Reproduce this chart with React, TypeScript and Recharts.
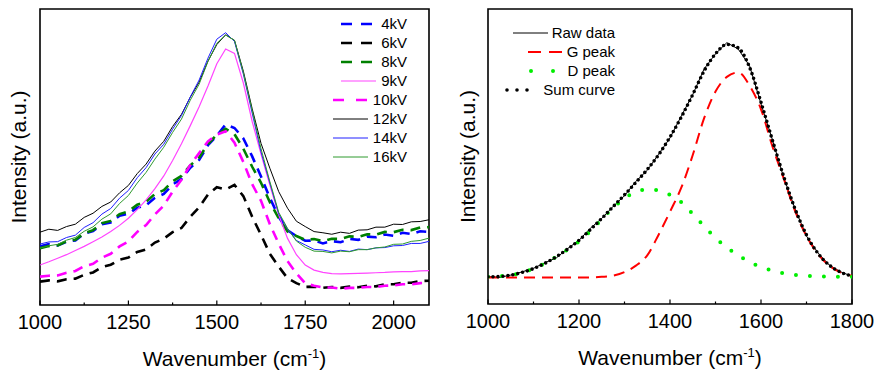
import { LineChart, Line, XAxis, YAxis, ReferenceArea, Legend } from 'recharts'

const FONT = '"Liberation Sans", Arial, sans-serif'

// left panel: spectra at different voltages
const leftWavenumbers = [
  1000, 1025, 1050, 1075, 1100, 1125, 1150, 1175, 1200, 1225, 1250, 1275, 1300, 1325, 1350,
  1375, 1400, 1425, 1450, 1475, 1500, 1525, 1550, 1575, 1600, 1625, 1650, 1675, 1700, 1725,
  1750, 1775, 1800, 1825, 1850, 1875, 1900, 1925, 1950, 1975, 2000, 2025, 2050, 2075, 2100,
]
const kv4 = [
  19.8, 20.6, 20.1, 21.4, 21.8, 24.1, 25.0, 27.3, 27.9, 30.2, 30.8, 32.9, 33.7, 36.2, 37.5,
  40.7, 42.6, 46.4, 49.0, 54.0, 57.2, 61.0, 59.8, 56.3, 50.2, 43.4, 36.2, 29.8, 25.2, 23.3,
  21.7, 21.8, 20.8, 21.6, 21.2, 22.3, 22.0, 23.1, 22.9, 23.8, 23.4, 24.4, 24.0, 24.9, 24.7,
]
const kv6 = [
  7.9, 8.3, 8.0, 8.7, 8.9, 10.2, 11.0, 12.8, 13.6, 15.3, 16.0, 17.9, 18.8, 21.1, 22.4,
  24.6, 26.0, 29.8, 33.0, 37.3, 39.8, 39.0, 40.6, 36.8, 29.8, 23.7, 17.3, 13.0, 9.0, 7.4,
  6.1, 6.2, 5.8, 6.1, 5.8, 6.2, 6.0, 6.5, 6.3, 7.0, 7.0, 7.5, 7.5, 8.1, 8.2,
]
const kv8 = [
  19.2, 19.9, 20.1, 21.5, 22.0, 24.2, 25.3, 27.6, 28.4, 30.7, 31.6, 33.9, 34.9, 37.5, 38.8,
  41.8, 43.6, 47.2, 49.8, 54.4, 57.5, 59.5, 57.7, 52.8, 46.7, 41.3, 34.7, 29.3, 24.8, 23.3,
  22.0, 22.3, 21.6, 22.4, 22.3, 23.2, 23.0, 23.9, 23.8, 24.7, 24.6, 25.4, 25.3, 26.2, 26.3,
]
const kv9 = [
  13.5, 14.6, 15.8, 17.0, 18.4, 19.8, 21.4, 23.0, 24.8, 26.9, 29.3, 32.2, 35.5, 39.3, 43.6,
  48.8, 54.5, 60.6, 67.0, 74.0, 81.5, 86.5, 85.0, 75.0, 62.0, 51.0, 40.5, 30.5, 22.5, 17.0,
  13.5, 11.8, 11.0, 10.6, 10.5, 10.6, 10.7, 10.8, 10.9, 11.0, 11.2, 11.3, 11.3, 11.5, 11.6,
]
const kv10 = [
  9.6, 9.9, 10.0, 10.9, 11.5, 13.1, 13.9, 16.0, 17.3, 19.8, 21.5, 24.7, 27.0, 30.6, 33.6,
  38.3, 42.3, 47.3, 51.3, 55.3, 57.6, 58.7, 54.8, 48.3, 40.8, 35.2, 27.3, 20.7, 14.8, 10.7,
  7.3, 6.5, 5.9, 5.9, 5.5, 5.8, 5.8, 6.1, 6.1, 6.5, 6.6, 7.0, 7.0, 7.4, 7.5,
]
const kv12 = [
  24.6, 25.6, 25.2, 26.5, 27.3, 29.6, 31.0, 33.3, 34.8, 37.9, 40.4, 44.4, 47.6, 52.0, 55.3,
  60.3, 64.4, 70.2, 75.3, 82.4, 88.0, 91.3, 89.4, 79.0, 66.3, 54.6, 46.2, 38.3, 32.7, 28.3,
  26.5, 24.8, 24.4, 23.9, 24.6, 24.2, 25.3, 25.4, 26.3, 26.3, 27.3, 27.2, 28.1, 28.2, 28.8,
]
const kv14 = [
  20.6, 21.3, 21.4, 22.8, 23.6, 26.2, 27.8, 30.7, 32.6, 36.1, 38.7, 43.0, 46.4, 51.0, 54.3,
  59.4, 64.0, 70.3, 76.0, 83.4, 89.8, 92.0, 89.0, 78.0, 64.8, 51.7, 41.2, 30.8, 25.6, 21.8,
  20.3, 18.8, 18.6, 18.0, 18.5, 18.1, 18.9, 18.7, 19.3, 19.4, 20.0, 20.1, 20.8, 20.8, 21.5,
]
const kv16 = [
  19.2, 20.0, 20.5, 21.9, 22.8, 24.9, 26.4, 29.0, 30.8, 34.3, 37.0, 41.2, 44.8, 49.3, 53.3,
  58.3, 62.8, 69.2, 74.6, 82.3, 88.4, 91.2, 89.4, 78.5, 65.7, 52.8, 41.7, 31.3, 25.9, 21.6,
  19.5, 18.2, 18.1, 17.6, 18.2, 18.0, 18.7, 18.7, 19.3, 19.6, 20.5, 20.6, 21.5, 21.8, 22.6,
]
const leftTicks = [1000, 1125, 1250, 1375, 1500, 1625, 1750, 1875, 2000]
const leftMajor = [1000, 1250, 1500, 1750, 2000]

// right panel: peak fitting
const rightWavenumbers = [
  1000, 1025, 1050, 1075, 1100, 1125, 1150, 1175, 1200, 1225, 1250, 1275, 1300, 1325, 1350,
  1375, 1400, 1425, 1450, 1475, 1500, 1525, 1550, 1575, 1600, 1625, 1650, 1675, 1700, 1725,
  1750, 1775, 1800,
]
const rawData = [
  9.3, 9.0, 9.8, 10.9, 12.1, 14.0, 15.6, 18.8, 21.6, 25.7, 29.0, 33.1, 36.7, 41.6, 45.3,
  50.8, 56.3, 63.8, 71.0, 79.7, 84.8, 88.6, 86.4, 80.7, 67.8, 55.7, 42.8, 32.2, 23.0, 17.4,
  13.2, 10.9, 9.4,
]
const gPeak = [
  9.0, 9.0, 9.0, 9.0, 9.0, 9.0, 9.0, 9.0, 9.0, 9.0, 9.2, 9.6, 10.8, 13.0, 16.5,
  23.5, 31.3, 39.5, 50.5, 63.0, 72.0, 77.0, 78.5, 74.0, 66.0, 53.5, 42.5, 31.5, 23.0, 17.0,
  13.0, 10.7, 9.6,
]
const dPeak = [
  9.2, 9.4, 9.8, 10.6, 12.0, 13.8, 16.0, 18.5, 21.2, 24.7, 28.7, 32.6, 35.8, 38.0, 38.8,
  38.5, 37.0, 34.5, 30.5, 26.4, 22.4, 19.2, 16.5, 14.2, 12.5, 11.3, 10.4, 9.9, 9.6, 9.4,
  9.3, 9.2, 9.2,
]
const sumCurve = [
  9.2, 9.3, 9.8, 10.7, 12.0, 13.8, 16.0, 18.6, 21.6, 25.2, 29.0, 33.0, 37.0, 41.2, 45.6,
  50.6, 56.6, 63.4, 71.0, 79.0, 84.8, 88.0, 86.8, 80.2, 68.4, 55.6, 43.2, 32.2, 23.4, 17.2,
  13.2, 10.8, 9.5,
]
const rightTicks = [1000, 1100, 1200, 1300, 1400, 1500, 1600, 1700, 1800]
const rightMajor = [1000, 1200, 1400, 1600, 1800]

type Series = {
  key: string
  name: string
  color: string
  width: number
  dash?: string
  legendDash?: string
  cap?: 'round' | 'butt'
  curve?: 'linear' | 'monotone'
}

const leftSeries: Series[] = [
  { key: 'kv4', name: '4kV', color: '#0000ff', width: 2.6, dash: '10 7', legendDash: '11 9' },
  { key: 'kv6', name: '6kV', color: '#000000', width: 2.6, dash: '10 7', legendDash: '11 9' },
  { key: 'kv8', name: '8kV', color: '#008000', width: 2.6, dash: '10 7', legendDash: '11 9' },
  { key: 'kv9', name: '9kV', color: '#ff44ff', width: 1.2 },
  { key: 'kv10', name: '10kV', color: '#ff00ff', width: 2.6, dash: '10 7', legendDash: '11 12' },
  { key: 'kv12', name: '12kV', color: '#000000', width: 1 },
  { key: 'kv14', name: '14kV', color: '#2020ff', width: 1 },
  { key: 'kv16', name: '16kV', color: '#2f9a2f', width: 1 },
]

const rightSeries: Series[] = [
  { key: 'raw', name: 'Raw data', color: '#000000', width: 1 },
  { key: 'g', name: 'G peak', color: '#ff0000', width: 2, dash: '11 7', legendDash: '13 8', curve: 'monotone' },
  { key: 'd', name: 'D peak', color: '#00ee00', width: 4, dash: '0 14', legendDash: '0 22', cap: 'round', curve: 'monotone' },
  { key: 'sum', name: 'Sum curve', color: '#000000', width: 3.6, dash: '0 5', legendDash: '0 10', cap: 'round', curve: 'monotone' },
]

const leftData = leftWavenumbers.map((w, i) => ({
  w,
  kv4: kv4[i],
  kv6: kv6[i],
  kv8: kv8[i],
  kv9: kv9[i],
  kv10: kv10[i],
  kv12: kv12[i],
  kv14: kv14[i],
  kv16: kv16[i],
}))

const rightData = rightWavenumbers.map((w, i) => ({
  w,
  raw: rawData[i],
  g: gPeak[i],
  d: dPeak[i],
  sum: sumCurve[i],
}))

function FrameTick(props: any) {
  const { x, y, payload, majors } = props
  const major = majors.includes(payload.value)
  return (
    <g>
      <line x1={x} x2={x} y1={y} y2={y - (major ? 4.5 : 2.5)} stroke="#000" strokeWidth={1.2} />
      {major && (
        <text x={x} y={y + 10} dy="0.71em" textAnchor="middle" fontSize={20} fill="#000" fontFamily={FONT}>
          {payload.value}
        </text>
      )}
    </g>
  )
}

function XTitle(props: any) {
  const vb = props.viewBox || { x: 0, y: 0, width: 0 }
  return (
    <text x={vb.x + vb.width / 2} y={vb.y + 61} textAnchor="middle" fontSize={21} fill="#000" fontFamily={FONT}>
      Wavenumber (cm
      <tspan fontSize={13} dy={-8}>-1</tspan>
      <tspan dy={8}>)</tspan>
    </text>
  )
}

function YTitle(props: any) {
  const vb = props.viewBox || { x: 0, y: 0, height: 0 }
  const x = vb.x + props.dx
  const y = vb.y + vb.height / 2
  return (
    <text
      x={x}
      y={y}
      transform={`rotate(-90, ${x}, ${y})`}
      textAnchor="middle"
      dominantBaseline="central"
      fontSize={21}
      fill="#000"
      fontFamily={FONT}
    >
      Intensity (a.u.)
    </text>
  )
}

function SeriesLegend({ items, width, gap }: { items: Series[]; width: number; gap: number }) {
  return (
    <div style={{ width, fontFamily: FONT, fontSize: 15, color: '#000' }}>
      {items.map((s) => (
        <div
          key={s.key}
          style={{ display: 'flex', justifyContent: 'flex-end', alignItems: 'center', height: 19 }}
        >
          <svg width={35} height={8} style={{ marginRight: gap }}>
            <line
              x1={s.cap === 'round' ? 3 : 0}
              x2={s.cap === 'round' ? 33 : 35}
              y1={4}
              y2={4}
              stroke={s.color}
              strokeWidth={s.cap === 'round' ? s.width : Math.min(s.width, 2.4)}
              strokeDasharray={s.legendDash ?? s.dash}
              strokeLinecap={s.cap ?? 'butt'}
            />
          </svg>
          <span style={{ lineHeight: '19px', whiteSpace: 'nowrap' }}>{s.name}</span>
        </div>
      ))}
    </div>
  )
}

export default function App() {
  return (
    <div style={{ position: 'absolute', left: 0, top: 0, width: 890, height: 378, background: '#fff' }}>
      <div style={{ position: 'absolute', left: 0, top: 0 }}>
        <LineChart width={445} height={378} data={leftData} margin={{ top: 9, right: 16, bottom: 13, left: 0 }}>
          <XAxis
            dataKey="w"
            type="number"
            domain={[1000, 2100]}
            ticks={leftTicks}
            interval={0}
            allowDataOverflow
            axisLine={false}
            tickLine={false}
            tickSize={0}
            tickMargin={0}
            height={60}
            tick={<FrameTick majors={leftMajor} />}
            label={<XTitle />}
          />
          <YAxis
            type="number"
            domain={[0, 100]}
            allowDataOverflow
            width={40}
            tick={false}
            axisLine={false}
            tickLine={false}
            label={<YTitle dx={18} />}
          />
          {leftSeries.map((s) => (
            <Line
              key={s.key}
              dataKey={s.key}
              name={s.name}
              type="linear"
              stroke={s.color}
              strokeWidth={s.width}
              strokeDasharray={s.dash}
              dot={false}
              activeDot={false}
              isAnimationActive={false}
            />
          ))}
          <ReferenceArea x1={1000} x2={2100} y1={0} y2={100} fill="none" stroke="#000" strokeWidth={1.6} />
          <Legend
            layout="vertical"
            align="center"
            verticalAlign="middle"
            wrapperStyle={{ left: 317, top: 14, width: 90 }}
            content={() => <SeriesLegend items={leftSeries} width={90} gap={5} />}
          />
        </LineChart>
      </div>
      <div style={{ position: 'absolute', left: 445, top: 0 }}>
        <LineChart width={445} height={378} data={rightData} margin={{ top: 9, right: 38, bottom: 14, left: 0 }}>
          <XAxis
            dataKey="w"
            type="number"
            domain={[1000, 1800]}
            ticks={rightTicks}
            interval={0}
            allowDataOverflow
            axisLine={false}
            tickLine={false}
            tickSize={0}
            tickMargin={0}
            height={60}
            tick={<FrameTick majors={rightMajor} />}
            label={<XTitle />}
          />
          <YAxis
            type="number"
            domain={[0, 100]}
            allowDataOverflow
            width={43}
            tick={false}
            axisLine={false}
            tickLine={false}
            label={<YTitle dx={22} />}
          />
          {rightSeries.map((s) => (
            <Line
              key={s.key}
              dataKey={s.key}
              name={s.name}
              type={s.curve ?? 'linear'}
              stroke={s.color}
              strokeWidth={s.width}
              strokeDasharray={s.dash}
              strokeLinecap={s.cap ?? 'butt'}
              dot={false}
              activeDot={false}
              isAnimationActive={false}
            />
          ))}
          <ReferenceArea x1={1000} x2={1800} y1={0} y2={100} fill="none" stroke="#000" strokeWidth={1.6} />
          <Legend
            layout="vertical"
            align="center"
            verticalAlign="middle"
            wrapperStyle={{ left: 40, top: 23, width: 130 }}
            content={() => <SeriesLegend items={rightSeries} width={130} gap={4} />}
          />
        </LineChart>
      </div>
    </div>
  )
}
